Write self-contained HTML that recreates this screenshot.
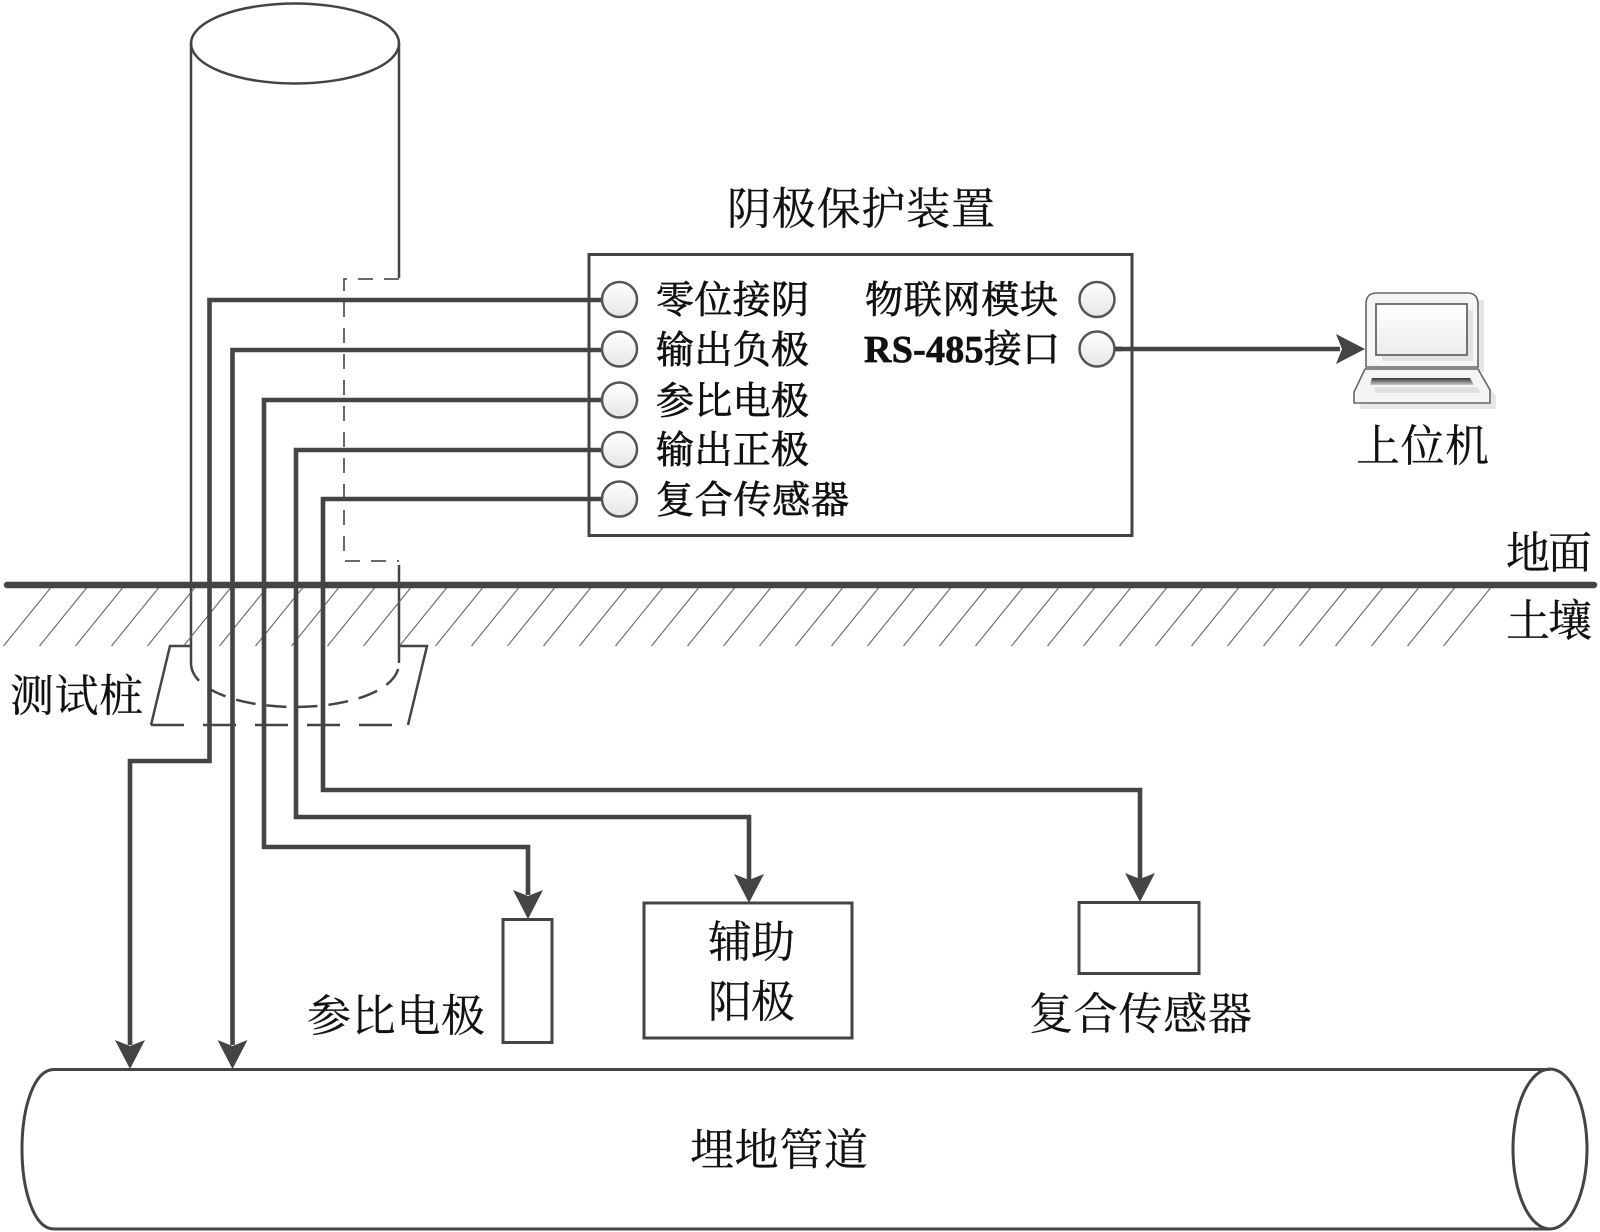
<!DOCTYPE html>
<html><head><meta charset="utf-8"><style>
html,body{margin:0;padding:0;background:#fff}
svg{display:block}
text{font-family:"Liberation Serif","Noto Serif CJK SC",serif;fill:#111}
</style></head><body>
<svg width="1600" height="1232" viewBox="0 0 1600 1232" xmlns="http://www.w3.org/2000/svg">
<defs>
<linearGradient id="c" x1="0" y1="0" x2="0" y2="1"><stop offset="0" stop-color="#fff"/><stop offset="1" stop-color="#e6e6e6"/></linearGradient>
<linearGradient id="s" x1="0" y1="0" x2="0" y2="1"><stop offset="0" stop-color="#fff"/><stop offset="1" stop-color="#ececec"/></linearGradient>
<linearGradient id="k" x1="0" y1="0" x2="0" y2="1"><stop offset="0" stop-color="#333"/><stop offset="1" stop-color="#ccc"/></linearGradient>
</defs>
<rect width="1600" height="1232" fill="#fff"/>

<!-- pole -->
<g fill="none" stroke="#444" stroke-width="2.5">
<ellipse cx="295" cy="43.5" rx="104" ry="40"/>
<path d="M191 43V663"/>
<path d="M399 43V278"/>
<path d="M399 565V663"/>
<path d="M399 279H344V561H399" stroke-width="1.8" stroke="#555" stroke-dasharray="15 11"/>
<path d="M191 663C191 690 240 707 295 707C350 707 399 690 399 663" stroke-dasharray="20 11"/>
<path d="M191 646H170L151 725" />
<path d="M399 646H427L408 725" />
<path d="M151 725H408" stroke-dasharray="33 19"/>
</g>

<!-- hatch -->
<path fill="none" stroke="#666" stroke-width="1.1" d="M3.5 646L50.5 588M39.5 646L86.5 588M75.5 646L122.5 588M111.5 646L158.5 588M147.5 646L194.5 588M183.5 646L230.5 588M219.5 646L266.5 588M255.5 646L302.5 588M291.5 646L338.5 588M327.5 646L374.5 588M363.5 646L410.5 588M399.5 646L446.5 588M435.5 646L482.5 588M471.5 646L518.5 588M507.5 646L554.5 588M543.5 646L590.5 588M579.5 646L626.5 588M615.5 646L662.5 588M651.5 646L698.5 588M687.5 646L734.5 588M723.5 646L770.5 588M759.5 646L806.5 588M795.5 646L842.5 588M831.5 646L878.5 588M867.5 646L914.5 588M903.5 646L950.5 588M939.5 646L986.5 588M975.5 646L1022.5 588M1011.5 646L1058.5 588M1047.5 646L1094.5 588M1083.5 646L1130.5 588M1119.5 646L1166.5 588M1155.5 646L1202.5 588M1191.5 646L1238.5 588M1227.5 646L1274.5 588M1263.5 646L1310.5 588M1299.5 646L1346.5 588M1335.5 646L1382.5 588M1371.5 646L1418.5 588M1407.5 646L1454.5 588M1443.5 646L1490.5 588"/>

<!-- ground -->
<path d="M7 585H1594" stroke="#444" stroke-width="6.5" stroke-linecap="round" fill="none"/>

<!-- device box -->
<rect x="589" y="254.5" width="543" height="281" fill="none" stroke="#444" stroke-width="3"/>

<!-- wires -->
<g fill="none" stroke="#444" stroke-width="4.6" stroke-linejoin="miter">
<path d="M601 300H209.5V761H130V1045"/>
<path d="M601 350H232.5V1045"/>
<path d="M601 400H264V847H528V895"/>
<path d="M601 450H296V817H749V880"/>
<path d="M601 499H323V790H1140V880"/>
<path d="M1115 349H1340"/>
</g>
<g fill="#444">
<polygon points="130,1069 115,1040 130,1046 145,1040"/>
<polygon points="232.5,1069 217.5,1040 232.5,1046 247.5,1040"/>
<polygon points="528,919 513,890 528,896 543,890"/>
<polygon points="749,903 734,874 749,880 764,874"/>
<polygon points="1140,902 1125,873 1140,879 1155,873"/>
<polygon points="1365,349 1336,334 1342,349 1336,364"/>
</g>

<!-- circles -->
<g fill="url(#c)" stroke="#555" stroke-width="2.5">
<circle cx="619.5" cy="299.5" r="17.5"/>
<circle cx="619.5" cy="349" r="17.5"/>
<circle cx="619.5" cy="400" r="17.5"/>
<circle cx="619.5" cy="449.5" r="17.5"/>
<circle cx="619.5" cy="499" r="17.5"/>
<circle cx="1097" cy="299.5" r="17.5"/>
<circle cx="1097" cy="349" r="17.5"/>
</g>
<path d="M1115 349H1122" stroke="#444" stroke-width="4.6"/>

<!-- laptop -->
<g>
<path d="M1372 300H1484V372H1372Z" fill="#e6e6e6"/>
<path d="M1361 380H1484L1496 396V409H1360Z" fill="#e6e6e6"/>
<path d="M1366 367V304Q1366 293 1377 293H1467Q1478 293 1478 304V367Z" fill="#f5f5f5" stroke="#666" stroke-width="1.6"/>
<rect x="1382" y="310" width="91" height="51" fill="#e2e2e2"/>
<rect x="1376" y="304" width="91" height="51" fill="url(#s)" stroke="#555" stroke-width="1.6"/>
<path d="M1365 369H1478L1490 390V403H1354V392Z" fill="#f4f4f4" stroke="#666" stroke-width="1.6"/>
<path d="M1372 378H1470L1474 385H1370Z" fill="url(#k)"/>
<path d="M1375 387H1477L1481 393H1375Z" fill="#e0e0e0"/>
</g>

<!-- boxes -->
<g fill="none" stroke="#444" stroke-width="3">
<rect x="503" y="919.5" width="49" height="123" fill="#fff"/>
<rect x="644" y="903" width="208" height="135" fill="#fff"/>
<rect x="1079" y="902.5" width="120" height="71" fill="#fff"/>
<path d="M1550 1069.5H54C33 1069.5 22 1110 22 1149C22 1188 33 1229 54 1229H1550"/>
<ellipse cx="1550" cy="1149" rx="37" ry="80"/>
</g>

<!-- text -->
<g font-size="44" stroke="#111" stroke-width="0.25">
<text x="727" y="224" textLength="268" lengthAdjust="spacing">阴极保护装置</text>
<text x="1356" y="461" textLength="133" lengthAdjust="spacing">上位机</text>
<text x="1506" y="568" textLength="86" lengthAdjust="spacing">地面</text>
<text x="1506" y="636" textLength="86" lengthAdjust="spacing">土壤</text>
<text x="10" y="711" textLength="133" lengthAdjust="spacing">测试桩</text>
<text x="307" y="1031" textLength="178" lengthAdjust="spacing">参比电极</text>
<text x="708" y="957" textLength="87" lengthAdjust="spacing">辅助</text>
<text x="708" y="1017" textLength="87" lengthAdjust="spacing">阳极</text>
<text x="1029" y="1029" textLength="223" lengthAdjust="spacing">复合传感器</text>
<text x="690" y="1165" textLength="178" lengthAdjust="spacing">埋地管道</text>
</g>
<g font-size="38" stroke="#111" stroke-width="0.7">
<text x="656" y="313" textLength="153" lengthAdjust="spacing">零位接阴</text>
<text x="656" y="363" textLength="153" lengthAdjust="spacing">输出负极</text>
<text x="656" y="414" textLength="153" lengthAdjust="spacing">参比电极</text>
<text x="656" y="463" textLength="153" lengthAdjust="spacing">输出正极</text>
<text x="656" y="513" textLength="193" lengthAdjust="spacing">复合传感器</text>
<text x="865" y="313" textLength="193" lengthAdjust="spacing">物联网模块</text>
<text x="864" y="362" textLength="196" lengthAdjust="spacing"><tspan font-weight="bold">RS-485</tspan>接口</text>
</g>
</svg>
</body></html>
